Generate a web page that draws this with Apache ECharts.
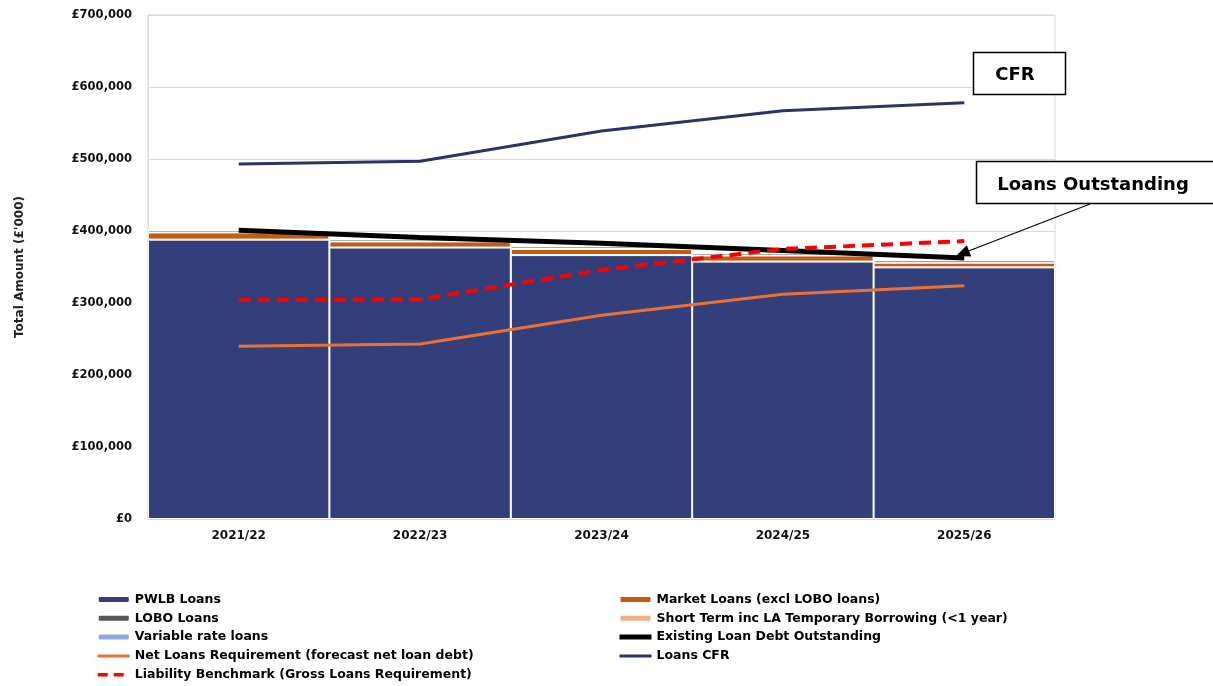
<!DOCTYPE html>
<html>
<head>
<meta charset="utf-8">
<title>Loans chart</title>
<script src="https://cdn.jsdelivr.net/npm/echarts@6/dist/echarts.min.js"></script>
<style>
    html, body {margin: 0; padding: 0; background: #fff;}
    #main {width: 1213px; height: 686px;}
</style>
</head>
<body>
<div id="main"></div>
<script>
// values in £'000
var years = ['2021/22', '2022/23', '2023/24', '2024/25', '2025/26'];
var pwlbLoans = [388000, 377000, 366500, 357500, 349500];
var marketLoans = [10000, 8500, 8500, 8500, 6500];
var loboLoans = [3500, 3500, 3500, 3500, 3500];
var shortTermLoans = [0, 0, 0, 0, 0];
var variableLoans = [0, 0, 0, 0, 0];
var existingDebt = [401000, 391000, 383000, 373000, 362500];
var netLoansReq = [240000, 243000, 283000, 312000, 324000];
var loansCfr = [493000, 497000, 539000, 567000, 578000];
var liabilityBenchmark = [304000, 305000, 346000, 375000, 386000];
var yTicks = [0, 100000, 200000, 300000, 400000, 500000, 600000, 700000];

var font = '"DejaVu Sans", Arial, sans-serif';

function money(v) {
    return '£' + String(v).replace(/\B(?=(\d{3})+(?!\d))/g, ',');
}

function barSeries(name, data, color) {
    return {
        name: name,
        type: 'bar',
        stack: 'loans',
        data: data,
        barCategoryGap: 0,
        itemStyle: {color: color, borderColor: '#fff', borderWidth: 1},
        z: 2
    };
}

function lineSeries(name, data, color, width, dashed) {
    return {
        name: name,
        type: 'line',
        data: data,
        symbol: 'none',
        lineStyle: {color: color, width: width, type: dashed ? [12, 7] : 'solid'},
        itemStyle: {color: color},
        z: 5
    };
}

// legend entry for a line series: hide the dot, keep the line
function lineItem(name, color, width, dashed) {
    return {
        name: name,
        itemStyle: {opacity: 0},
        lineStyle: {color: color, width: width, type: dashed ? [10, 6] : 'solid'}
    };
}

var legendText = {color: '#000', fontWeight: 'bold', fontSize: 12.5, lineHeight: 15, fontFamily: font};

var chart = echarts.init(document.getElementById('main'));

chart.setOption({
    animation: false,
    textStyle: {fontFamily: font},
    grid: {left: 148, right: 158, top: 15, bottom: 167, show: true, borderColor: '#d9d9d9', borderWidth: 1},
    xAxis: {
        type: 'category',
        data: years,
        axisLine: {lineStyle: {color: '#d9d9d9'}},
        axisTick: {show: false},
        axisLabel: {color: '#111', fontWeight: 'bold', fontSize: 12, margin: 11, fontFamily: font}
    },
    yAxis: {
        type: 'value',
        min: yTicks[0],
        max: yTicks[yTicks.length - 1],
        interval: 100000,
        name: "Total Amount (£'000)",
        nameLocation: 'middle',
        nameGap: 122,
        nameTextStyle: {color: '#222', fontWeight: 'bold', fontSize: 12, fontFamily: font},
        axisLine: {show: true, lineStyle: {color: '#d9d9d9'}},
        axisTick: {show: false},
        splitLine: {lineStyle: {color: '#d9d9d9'}},
        axisLabel: {color: '#111', fontWeight: 'bold', fontSize: 11.5, margin: 16, fontFamily: font, formatter: money}
    },
    legend: [{
        orient: 'vertical',
        left: 96,
        top: 592,
        height: 94,
        padding: 0,
        itemWidth: 32,
        itemHeight: 7,
        itemGap: 3.8,
        textStyle: legendText,
        data: [
            'PWLB Loans',
            'LOBO Loans',
            'Variable rate loans',
            lineItem('Net Loans Requirement (forecast net loan debt)', '#ee7030', 3, false),
            lineItem('Liability Benchmark (Gross Loans Requirement)', '#ff0000', 3.5, true)
        ]
    }, {
        orient: 'vertical',
        left: 617,
        top: 592,
        height: 94,
        padding: 0,
        itemWidth: 32,
        itemHeight: 7,
        itemGap: 3.8,
        textStyle: legendText,
        data: [
            'Market Loans (excl LOBO loans)',
            'Short Term inc LA Temporary Borrowing (<1 year)',
            lineItem('Existing Loan Debt Outstanding', '#000', 5, false),
            lineItem('Loans CFR', '#2b3468', 3, false)
        ]
    }],
    series: [
        barSeries('PWLB Loans', pwlbLoans, '#333f7a'),
        barSeries('Market Loans (excl LOBO loans)', marketLoans, '#c55a11'),
        barSeries('LOBO Loans', loboLoans, '#595959'),
        barSeries('Short Term inc LA Temporary Borrowing (<1 year)', shortTermLoans, '#f4b183'),
        barSeries('Variable rate loans', variableLoans, '#8ea9db'),
        lineSeries('Existing Loan Debt Outstanding', existingDebt, '#000', 5, false),
        lineSeries('Net Loans Requirement (forecast net loan debt)', netLoansReq, '#ee7030', 3, false),
        lineSeries('Loans CFR', loansCfr, '#2b3468', 3, false),
        lineSeries('Liability Benchmark (Gross Loans Requirement)', liabilityBenchmark, '#ff0000', 4, true)
    ],
    graphic: [
        {type: 'rect', shape: {x: 973.5, y: 52.5, width: 92, height: 42}, style: {fill: '#fff', stroke: '#000', lineWidth: 1.5}, z: 10},
        {type: 'text', x: 1015, y: 75, style: {text: 'CFR', fill: '#000', font: 'bold 18px ' + font, align: 'center', verticalAlign: 'middle'}, z: 11},
        {type: 'rect', shape: {x: 976.5, y: 161.5, width: 240, height: 42}, style: {fill: '#fff', stroke: '#000', lineWidth: 1.5}, z: 10},
        {type: 'text', x: 1093, y: 185, style: {text: 'Loans Outstanding', fill: '#000', font: 'bold 18px ' + font, align: 'center', verticalAlign: 'middle'}, z: 11},
        {type: 'line', shape: {x1: 1090, y1: 204, x2: 966, y2: 252}, style: {stroke: '#000', lineWidth: 1.2}, z: 10},
        {type: 'polygon', shape: {points: [[956, 256], [971.2, 256.5], [966.8, 245.3]]}, style: {fill: '#000'}, z: 10}
    ]
});
</script>
</body>
</html>
